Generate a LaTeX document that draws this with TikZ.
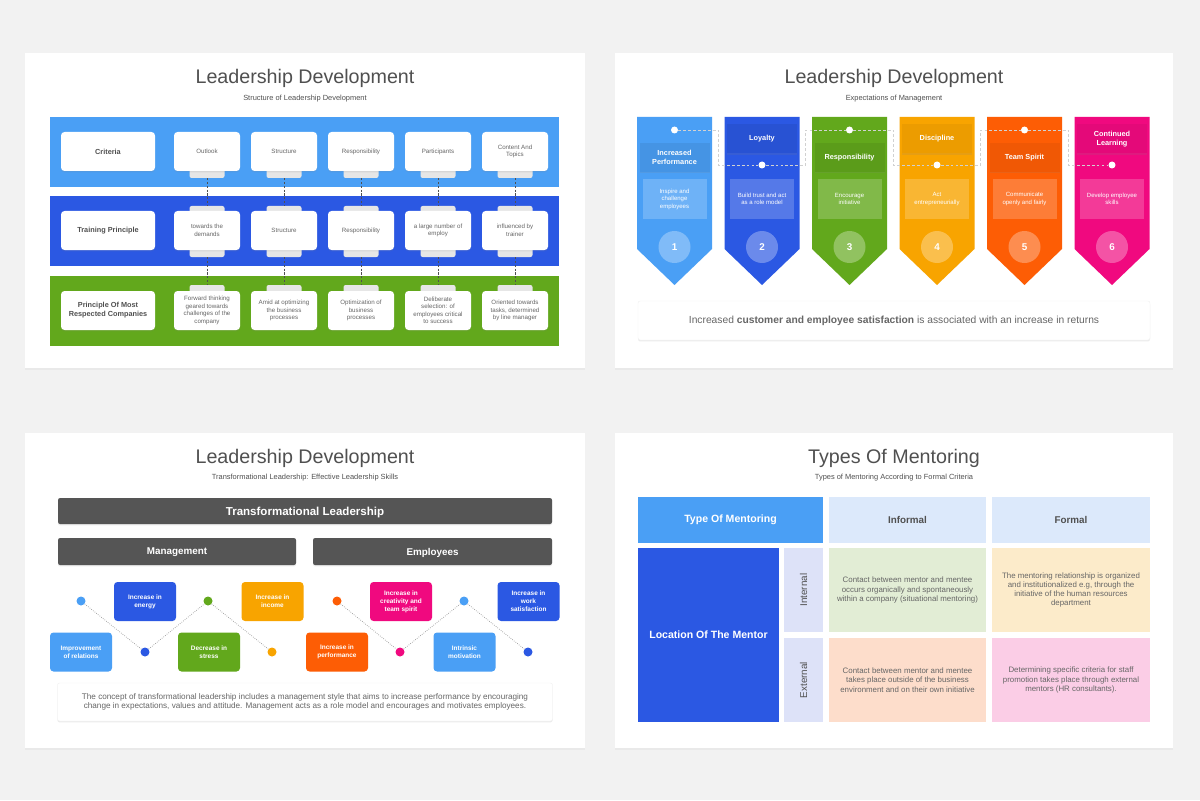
\documentclass[tikz,border=0pt]{standalone}
\usepackage{fontspec}
\setmainfont{Liberation Sans}
\usetikzlibrary{shadows, positioning}

\definecolor{bggray}{HTML}{F2F2F2}
\definecolor{lightblue}{HTML}{4A9FF5}
\definecolor{deepblue}{HTML}{2B58E3}
\definecolor{leafgreen}{HTML}{62A81C}
\definecolor{amber}{HTML}{F8A400}
\definecolor{flame}{HTML}{FD5D05}
\definecolor{hotpink}{HTML}{F0097F}
\definecolor{bargray}{HTML}{555555}
\definecolor{titlegray}{HTML}{505050}
\definecolor{textgray}{HTML}{666666}
\definecolor{tabgray}{HTML}{E6E6E6}
\definecolor{headblue}{HTML}{DCE9FB}
\definecolor{lavender}{HTML}{DDE2F8}
\definecolor{mintcell}{HTML}{E2EDD5}
\definecolor{sandcell}{HTML}{FCEBCA}
\definecolor{peachcell}{HTML}{FDDDCB}
\definecolor{rosecell}{HTML}{FBCDE6}

\newcommand{\unitpx}{0.025cm}

\tikzset{
  slidebg/.style={fill=white, drop shadow={opacity=0.07, shadow xshift=0pt, shadow yshift=-1.5pt}},
  slidetitle/.style={font=\fontsize{14}{16}\selectfont, text=titlegray},
  slidesub/.style={font=\fontsize{5.3}{6}\selectfont, text=titlegray},
  softshadow/.style={drop shadow={opacity=0.15, shadow xshift=0pt, shadow yshift=-1pt}},
  % leadership structure
  rowhead/.style={fill=white, rounded corners=2.5pt, softshadow, minimum width=94*\unitpx, minimum height=39*\unitpx, inner sep=0pt, align=center, text=titlegray, font=\bfseries\fontsize{5.2}{6.3}\selectfont},
  infobox/.style={fill=white, rounded corners=2.5pt, softshadow, minimum width=66*\unitpx, minimum height=39*\unitpx, inner sep=0pt, align=center, text=textgray, font=\fontsize{4.4}{5.3}\selectfont},
  tabbox/.style={fill=tabgray, rounded corners=1.5pt, minimum width=35*\unitpx, minimum height=11*\unitpx, inner sep=0pt},
  rowlink/.style={dash pattern=on 1.5pt off 1.2pt, line width=0.5pt, draw=titlegray},
  % expectations
  colhead/.style={softshadow, minimum width=70*\unitpx, minimum height=29*\unitpx, inner sep=0pt, align=center, text=white, font=\bfseries\fontsize{5.2}{6.9}\selectfont},
  coldesc/.style={fill=white, fill opacity=0.2, text opacity=1, minimum width=64*\unitpx, minimum height=40*\unitpx, inner sep=0pt, align=center, text=white, font=\fontsize{4.3}{5.3}\selectfont},
  numdot/.style={circle, fill=white, fill opacity=0.3, text opacity=1, minimum size=32*\unitpx, inner sep=0pt, text=white, font=\bfseries\fontsize{7}{8}\selectfont},
  wdot/.style={circle, fill=white, minimum size=7*\unitpx, inner sep=0pt},
  wlink/.style={dash pattern=on 2pt off 1.5pt, line width=0.4pt, draw=white!82!black},
  notebox/.style={fill=white, draw=black!6, line width=0.3pt, rounded corners=1.5pt, softshadow, minimum width=512*\unitpx, minimum height=39*\unitpx, inner sep=0pt, text=textgray, font=\fontsize{7.3}{8}\selectfont},
  % transformational leadership
  darkbar/.style={fill=bargray, rounded corners=1.5pt, softshadow, inner sep=0pt, text depth=0pt, text=white, font=\bfseries\fontsize{8.2}{9}\selectfont, minimum height=26*\unitpx},
  subbar/.style={fill=bargray, rounded corners=1.5pt, softshadow, inner sep=0pt, text depth=0pt, text=white, font=\bfseries\fontsize{7}{8}\selectfont, minimum height=27*\unitpx},
  skillbox/.style={rounded corners=2.5pt, minimum width=62*\unitpx, minimum height=39*\unitpx, inner sep=0pt, align=center, text=white, font=\bfseries\fontsize{4.6}{5.8}\selectfont},
  zdot/.style={circle, minimum size=9*\unitpx, inner sep=0pt},
  zigline/.style={densely dotted, draw=gray!80, line width=0.5pt},
  summarybox/.style={fill=white, draw=black!6, line width=0.3pt, rounded corners=1.5pt, softshadow, minimum width=495*\unitpx, minimum height=38*\unitpx, inner sep=0pt, align=center, text=textgray, font=\fontsize{5.8}{6.6}\selectfont},
  % mentoring
  mcell/.style={inner sep=0pt, align=center, text=textgray, font=\fontsize{5.6}{6.6}\selectfont},
  mhead/.style={inner sep=0pt, fill=headblue, text=titlegray, font=\bfseries\fontsize{7}{8}\selectfont, minimum height=46*\unitpx}
}

\begin{document}
\begin{tikzpicture}[x=\unitpx, y=-\unitpx]
    % page
    \fill[bggray] (0,0) rectangle (1200,800);
    \useasboundingbox (0,0) rectangle (1200,800);

    % ---------- slide 1: structure ----------
    \fill[slidebg] (25,53) rectangle (585,368);
    \node[slidetitle] (ta) at (305,78) {Leadership Development};
    \node[slidesub] (sa) at (305,99) {Structure of Leadership Development};

    % bands
    \fill[lightblue] (50,117) rectangle (559,187);
    \fill[deepblue] (50,196) rectangle (559,266);
    \fill[leafgreen] (50,276) rectangle (559,346);

    % tabs between the rows
    \node[tabbox] (tba1) at (207,172.5) {};
    \node[tabbox] (tba2) at (284,172.5) {};
    \node[tabbox] (tba3) at (361,172.5) {};
    \node[tabbox] (tba4) at (438,172.5) {};
    \node[tabbox] (tba5) at (515,172.5) {};
    \node[tabbox] (ttb1) at (207,211.5) {};
    \node[tabbox] (ttb2) at (284,211.5) {};
    \node[tabbox] (ttb3) at (361,211.5) {};
    \node[tabbox] (ttb4) at (438,211.5) {};
    \node[tabbox] (ttb5) at (515,211.5) {};
    \node[tabbox] (tbb1) at (207,251.5) {};
    \node[tabbox] (tbb2) at (284,251.5) {};
    \node[tabbox] (tbb3) at (361,251.5) {};
    \node[tabbox] (tbb4) at (438,251.5) {};
    \node[tabbox] (tbb5) at (515,251.5) {};
    \node[tabbox] (ttc1) at (207,290.5) {};
    \node[tabbox] (ttc2) at (284,290.5) {};
    \node[tabbox] (ttc3) at (361,290.5) {};
    \node[tabbox] (ttc4) at (438,290.5) {};
    \node[tabbox] (ttc5) at (515,290.5) {};

    % row heads
    \node[rowhead] (ra) at (108,151.5) {Criteria};
    \node[rowhead] (rb) at (108,230.5) {Training Principle};
    \node[rowhead] (rc) at (108,310.5) {Principle Of Most\\Respected Companies};

    % criteria row
    \node[infobox] (ca1) at (207,151.5) {Outlook};
    \node[infobox] (ca2) at (284,151.5) {Structure};
    \node[infobox] (ca3) at (361,151.5) {Responsibility};
    \node[infobox] (ca4) at (438,151.5) {Participants};
    \node[infobox] (ca5) at (515,151.5) {Content And\\Topics};

    % training principle row
    \node[infobox] (cb1) at (207,230.5) {towards the\\demands};
    \node[infobox] (cb2) at (284,230.5) {Structure};
    \node[infobox] (cb3) at (361,230.5) {Responsibility};
    \node[infobox] (cb4) at (438,230.5) {a large number of\\employ};
    \node[infobox] (cb5) at (515,230.5) {influenced by\\trainer};

    % companies row
    \node[infobox] (cc1) at (207,310.5) {Forward thinking\\geared towards\\challenges of the\\company};
    \node[infobox] (cc2) at (284,310.5) {Amid at optimizing\\the business\\processes};
    \node[infobox] (cc3) at (361,310.5) {Optimization of\\business\\processes};
    \node[infobox] (cc4) at (438,310.5) {Deliberate\\selection: of\\employees critical\\to success};
    \node[infobox] (cc5) at (515,310.5) {Oriented towards\\tasks, determined\\by line manager};

    % dashed links
    \draw[rowlink] (tba1.south) -- (ttb1.north);
    \draw[rowlink] (tba2.south) -- (ttb2.north);
    \draw[rowlink] (tba3.south) -- (ttb3.north);
    \draw[rowlink] (tba4.south) -- (ttb4.north);
    \draw[rowlink] (tba5.south) -- (ttb5.north);
    \draw[rowlink] (tbb1.south) -- (ttc1.north);
    \draw[rowlink] (tbb2.south) -- (ttc2.north);
    \draw[rowlink] (tbb3.south) -- (ttc3.north);
    \draw[rowlink] (tbb4.south) -- (ttc4.north);
    \draw[rowlink] (tbb5.south) -- (ttc5.north);

    % ---------- slide 2: expectations ----------
    \fill[slidebg] (615,53) rectangle (1173,368);
    \node[slidetitle] (tb) at (894,78) {Leadership Development};
    \node[slidesub] (sb) at (894,99) {Expectations of Management};

    % arrow columns
    \fill[lightblue] (637,117) -- (712,117) -- (712,249) -- (674.5,285) -- (637,249) -- cycle;
    \fill[deepblue] (724.5,117) -- (799.5,117) -- (799.5,249) -- (762,285) -- (724.5,249) -- cycle;
    \fill[leafgreen] (812,117) -- (887,117) -- (887,249) -- (849.5,285) -- (812,249) -- cycle;
    \fill[amber] (899.5,117) -- (974.5,117) -- (974.5,249) -- (937,285) -- (899.5,249) -- cycle;
    \fill[flame] (987,117) -- (1062,117) -- (1062,249) -- (1024.5,285) -- (987,249) -- cycle;
    \fill[hotpink] (1074.5,117) -- (1149.5,117) -- (1149.5,249) -- (1112,285) -- (1074.5,249) -- cycle;

    % headers
    \node[colhead, fill=lightblue!93!black] (h1) at (674.5,157.5) {Increased\\Performance};
    \node[colhead, fill=deepblue!93!black] (h2) at (762,139) {Loyalty};
    \node[colhead, fill=leafgreen!93!black] (h3) at (849.5,157.5) {Responsibility};
    \node[colhead, fill=amber!95!black] (h4) at (937,139) {Discipline};
    \node[colhead, fill=flame!95!black] (h5) at (1024.5,157.5) {Team Spirit};
    \node[colhead, fill=hotpink!95!black] (h6) at (1112,139) {Continued\\Learning};

    % descriptions
    \node[coldesc] (e1) at (674.5,199) {Inspire and\\challenge\\employees};
    \node[coldesc] (e2) at (762,199) {Build trust and act\\as a role model};
    \node[coldesc] (e3) at (849.5,199) {Encourage\\initiative};
    \node[coldesc] (e4) at (937,199) {Act\\entrepreneurially};
    \node[coldesc] (e5) at (1024.5,199) {Communicate\\openly and fairly};
    \node[coldesc] (e6) at (1112,199) {Develop employee\\skills};

    % numbers
    \node[numdot] (n1) at (674.5,247) {1};
    \node[numdot] (n2) at (762,247) {2};
    \node[numdot] (n3) at (849.5,247) {3};
    \node[numdot] (n4) at (937,247) {4};
    \node[numdot] (n5) at (1024.5,247) {5};
    \node[numdot] (n6) at (1112,247) {6};

    % dots and dashed path
    \node[wdot] (d1) at (674.5,130) {};
    \node[wdot] (d2) at (762,165) {};
    \node[wdot] (d3) at (849.5,130) {};
    \node[wdot] (d4) at (937,165) {};
    \node[wdot] (d5) at (1024.5,130) {};
    \node[wdot] (d6) at (1112,165) {};
    \coordinate (g1) at (718.25,165);
    \coordinate (g2) at (805.75,130);
    \coordinate (g3) at (893.25,165);
    \coordinate (g4) at (980.75,130);
    \coordinate (g5) at (1068.25,165);
    \draw[wlink] (d1) -| (g1) -- (d2);
    \draw[wlink] (d2) -| (g2) -- (d3);
    \draw[wlink] (d3) -| (g3) -- (d4);
    \draw[wlink] (d4) -| (g4) -- (d5);
    \draw[wlink] (d5) -| (g5) -- (d6);

    % note
    \node[notebox] (nb) at (894,320.5) {Increased \textbf{customer and employee satisfaction} is associated with an increase in returns};

    % ---------- slide 3: transformational leadership ----------
    \fill[slidebg] (25,433) rectangle (585,748);
    \node[slidetitle] (tc) at (305,458) {Leadership Development};
    \node[slidesub] (sc) at (305,478) {Transformational Leadership: Effective Leadership Skills};

    \node[darkbar, minimum width=494*\unitpx] (tl) at (305,511) {Transformational Leadership};
    \node[subbar, minimum width=238*\unitpx] (mg) at (177,551.5) {Management};
    \node[subbar, minimum width=239*\unitpx] (em) at (432.5,551.5) {Employees};

    % zigzag dots
    \node[zdot, fill=lightblue] (p1) at (81,601) {};
    \node[zdot, fill=deepblue] (p2) at (145,652) {};
    \node[zdot, fill=leafgreen] (p3) at (208,601) {};
    \node[zdot, fill=amber] (p4) at (272,652) {};
    \node[zdot, fill=flame] (p5) at (337,601) {};
    \node[zdot, fill=hotpink] (p6) at (400,652) {};
    \node[zdot, fill=lightblue] (p7) at (464,601) {};
    \node[zdot, fill=deepblue] (p8) at (528,652) {};
    \draw[zigline] (p1) -- (p2) -- (p3) -- (p4);
    \draw[zigline] (p5) -- (p6) -- (p7) -- (p8);

    % effects
    \node[skillbox, fill=deepblue] (k1) at (145,601.5) {Increase in\\energy};
    \node[skillbox, fill=amber] (k2) at (272.5,601.5) {Increase in\\income};
    \node[skillbox, fill=hotpink] (k3) at (401,601.5) {Increase in\\creativity and\\team spirit};
    \node[skillbox, fill=deepblue] (k4) at (528.5,601.5) {Increase in\\work\\satisfaction};
    \node[skillbox, fill=lightblue] (k5) at (81,652) {Improvement\\of relations};
    \node[skillbox, fill=leafgreen] (k6) at (209,652) {Decrease in\\stress};
    \node[skillbox, fill=flame] (k7) at (337,652) {Increase in\\performance};
    \node[skillbox, fill=lightblue] (k8) at (464.5,652) {Intrinsic\\motivation};

    \node[summarybox] (sm) at (305,702) {The concept of transformational leadership includes a management style that aims to increase performance by encouraging\\change in expectations, values and attitude. Management acts as a role model and encourages and motivates employees.};

    % ---------- slide 4: mentoring ----------
    \fill[slidebg] (615,433) rectangle (1173,748);
    \node[slidetitle] (td) at (894,458) {Types Of Mentoring};
    \node[slidesub] (sd) at (894,478) {Types of Mentoring According to Formal Criteria};

    % header row
    \node[mhead, fill=lightblue, text=white, font=\bfseries\fontsize{7.5}{9}\selectfont, minimum width=185*\unitpx] (mt) at (730.5,520) {Type Of Mentoring};
    \node[mhead, minimum width=157*\unitpx] (mi) at (907.5,520) {Informal};
    \node[mhead, minimum width=158*\unitpx] (mf) at (1071,520) {Formal};

    % location column
    \node[mcell, fill=deepblue, text=white, font=\bfseries\fontsize{7.5}{9}\selectfont, minimum width=141*\unitpx, minimum height=174*\unitpx] (ml) at (708.5,635) {Location Of The Mentor};
    \node[mcell, fill=lavender, minimum width=39*\unitpx, minimum height=84*\unitpx] (lin) at (803.5,590) {};
    \node[text=titlegray, font=\fontsize{7}{8}\selectfont, rotate=90] (linl) at (lin) {Internal};
    \node[mcell, fill=lavender, minimum width=39*\unitpx, minimum height=84*\unitpx] (lex) at (803.5,680) {};
    \node[text=titlegray, font=\fontsize{7}{8}\selectfont, rotate=90] (lexl) at (lex) {External};

    % cells
    \node[mcell, fill=mintcell, minimum width=157*\unitpx, minimum height=84*\unitpx] (ii) at (907.5,590) {Contact between mentor and mentee\\occurs organically and spontaneously\\within a company (situational mentoring)};
    \node[mcell, fill=sandcell, minimum width=158*\unitpx, minimum height=84*\unitpx] (fi) at (1071,590) {The mentoring relationship is organized\\and institutionalized e.g, through the\\initiative of the human resources\\department};
    \node[mcell, fill=peachcell, minimum width=157*\unitpx, minimum height=84*\unitpx] (ie) at (907.5,680) {Contact between mentor and mentee\\takes place outside of the business\\environment and on their own initiative};
    \node[mcell, fill=rosecell, minimum width=158*\unitpx, minimum height=84*\unitpx] (fe) at (1071,680) {Determining specific criteria for staff\\promotion takes place through external\\mentors (HR consultants).};
\end{tikzpicture}
\end{document}
